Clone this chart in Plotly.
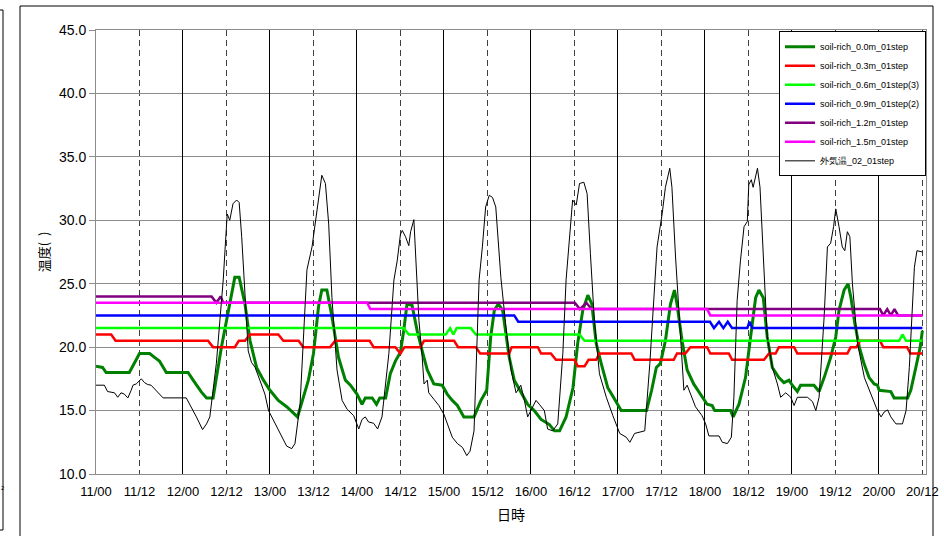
import plotly.graph_objects as go

# ---------------- data (hours since 11/00) ----------------
tick_hours = list(range(0, 229, 12))
tick_labels = ["11/00", "11/12", "12/00", "12/12", "13/00", "13/12", "14/00", "14/12",
               "15/00", "15/12", "16/00", "16/12", "17/00", "17/12", "18/00", "18/12",
               "19/00", "19/12", "20/00", "20/12"]
day_hours = list(range(0, 229, 24))

# soil-rich 0.0m
g00_t = [0, 1.8, 2.8, 9.2, 12.0, 14.8, 16.6, 17.5, 19.4, 25.4, 26.8, 29.1, 30.5, 32.3, 34.6, 36.5,
         38.3, 39.5, 41.1, 42.5, 44.3, 46.2, 48.0, 50.3, 52.6, 55.6, 57.2, 58.6, 60.0, 61.4, 62.3,
         63.7, 65.1, 66.9, 68.8, 70.2, 72.0, 73.4, 74.3, 76.2, 77.4, 78.3, 79.9, 81.2, 82.6, 84.0,
         84.9, 85.8, 87.2, 88.6, 90.0, 91.4, 93.2, 95.5, 96.9, 98.3, 99.7, 101.5, 104.3, 106.2,
         107.8, 108.9, 109.9, 111.0, 112.2, 114.0, 115.4, 117.2, 119.1, 120.9, 122.8, 125.1,
         126.5, 127.9, 129.7, 131.6, 132.9, 134.3, 135.7, 136.8, 138.0, 139.4, 141.2, 143.1,
         144.9, 151.9, 153.3, 154.6, 155.7, 157.1, 158.5, 159.6, 160.3, 161.7, 163.1, 164.9,
         166.8, 168.6, 170.0, 170.7, 175.1, 175.8, 177.4, 179.2, 180.6, 182.0, 182.9, 184.1,
         185.2, 186.6, 188.4, 189.8, 191.2, 192.1, 193.5, 194.4, 198.1, 199.5, 200.9, 202.7,
         204.1, 205.0, 206.4, 207.5, 208.3, 209.4, 210.6, 211.9, 213.3, 214.7, 215.6, 216.1,
         219.3, 220.2, 223.9, 224.8, 226.2, 227.4, 228.0]
g00_v = [18.5, 18.4, 18.0, 18.0, 19.5, 19.5, 19.1, 18.9, 18.0, 18.0, 17.4, 16.45, 16.0, 16.0, 20.0, 22.9,
         25.5, 25.5, 23.4, 20.5, 18.4, 17.4, 16.6, 15.8, 15.3, 14.5, 16.05, 17.4, 19.5, 23.2, 24.5,
         24.5, 22.4, 19.2, 17.4, 17.0, 16.3, 15.5, 16.0, 16.0, 15.5, 16.0, 16.0, 17.9, 18.9, 19.6,
         21.3, 23.4, 23.3, 21.3, 19.7, 18.2, 17.1, 17.0, 16.3, 15.8, 15.4, 14.5, 14.5, 15.8,
         16.6, 20.8, 22.9, 23.4, 22.9, 19.2, 17.4, 16.45, 15.5, 15.0, 14.3, 13.9,
         13.4, 13.4, 14.5, 16.8, 20.3, 22.9, 24.1, 23.4, 20.3, 18.7, 16.8, 15.9,
         15.0, 15.0, 16.6, 18.4, 18.7, 20.5, 23.4, 24.5, 23.4, 20.5, 18.2, 17.1,
         16.3, 15.5, 15.4, 15.0, 15.0, 14.5, 15.5, 17.6, 20.8, 23.9, 24.5, 23.9,
         20.8, 18.4, 17.6, 17.2, 17.4, 17.0, 16.5, 17.0, 17.0, 16.5, 17.6, 19.2,
         20.8, 22.9, 24.5, 25.0, 23.9, 21.8, 20.0, 18.7, 17.6, 17.1, 17.0, 16.6,
         16.5, 16.0, 16.0, 16.6, 18.4, 20.0, 21.3]

# soil-rich 0.3m
g03_t = [0, 4.2, 5.4, 30.9, 32.3, 38.3, 39.4, 41.1, 42.5, 50.3, 51.7, 55.9, 57.2, 64.6, 66.0, 75.5,
         76.6, 82.6, 84.0, 85.1, 89.5, 90.5, 98.8, 99.9, 104.8, 106.0, 114.0, 114.7, 121.9, 122.8,
         125.5, 126.9, 132.0, 132.9, 134.8, 135.9, 138.0, 138.9, 147.7, 148.6, 159.4, 160.3, 162.6,
         164.0, 168.6, 169.5, 174.6, 175.5, 184.3, 185.7, 187.5, 188.4, 192.6, 193.5, 207.3, 208.2,
         209.8, 210.8, 216.3, 217.2, 223.8, 224.7, 228.0]
g03_v = [21.0, 21.0, 20.5, 20.5, 20.0, 20.0, 20.5, 20.5, 21.0, 21.0, 20.5, 20.5, 20.0, 20.0, 20.5, 20.5,
         20.0, 20.0, 19.5, 20.0, 20.0, 20.5, 20.5, 20.0, 20.0, 19.5, 19.5, 20.0, 20.0, 19.5,
         19.5, 19.0, 19.0, 18.5, 18.5, 19.0, 19.0, 19.5, 19.5, 19.0, 19.0, 19.5, 19.5,
         20.0, 20.0, 19.5, 19.5, 19.0, 19.0, 19.5, 19.5, 20.0, 20.0, 19.5, 19.5, 20.0,
         20.0, 20.5, 20.5, 20.0, 20.0, 19.5, 19.5]

# soil-rich 0.6m
g06_t = [0, 84.9, 86.3, 96.5, 97.7, 98.6, 99.5, 103.4, 104.8, 133.4, 134.8, 221.6, 222.5, 223.5, 228.0]
g06_v = [21.5, 21.5, 21.0, 21.0, 21.5, 21.0, 21.5, 21.5, 21.0, 21.0, 20.5, 20.5, 21.0, 20.5, 20.5]

# soil-rich 0.9m
g09_t = [0, 115.4, 116.5, 169.4, 170.5, 171.9, 173.1, 174.3, 175.5, 179.7, 180.3, 181.1, 228.0]
g09_v = [22.5, 22.5, 22.0, 22.0, 21.5, 22.0, 21.5, 22.0, 21.5, 21.5, 22.0, 21.5, 21.5]

# soil-rich 1.2m
g12_t = [0, 31.9, 33.2, 34.4, 35.1, 132.1, 133.5, 135.3, 136.7, 216.3, 217.2, 218.3, 219.3, 220.3, 221.3, 228.0]
g12_v = [24.0, 24.0, 23.5, 24.0, 23.5, 23.5, 23.0, 23.5, 23.0, 23.0, 22.5, 23.0, 22.5, 23.0, 22.5, 22.5]

# soil-rich 1.5m
g15_t = [0, 74.8, 75.7, 168.6, 169.5, 228.0]
g15_v = [23.5, 23.5, 23.0, 23.0, 22.5, 22.5]

# outside air temperature
air_t = [0, 2.3, 3.2, 5.1, 6.0, 6.9, 7.8, 8.8, 9.7, 10.2, 11.1, 12.5, 13.4, 14.3, 15.2, 16.6, 18.5,
         24.9, 25.9, 27.7, 29.4, 30.5, 31.4, 33.2, 35.1, 36.2, 36.9, 37.8, 38.8, 39.5, 40.2, 41.1,
         42.0, 42.9, 43.9, 45.2, 46.6, 47.6, 49.9, 52.6, 54.0, 54.9, 56.3, 58.2, 59.6, 60.9, 62.3,
         63.3, 64.2, 65.1, 66.5, 67.9, 69.3, 71.1, 72.5, 73.4, 74.3, 75.2, 76.6, 77.7, 78.9, 80.8,
         82.2, 83.1, 84.0, 84.5, 85.4, 86.3, 86.8, 87.7, 88.2, 89.1, 90.0, 90.5, 91.4, 91.8, 93.2,
         94.6, 96.0, 97.4, 98.3, 99.7, 101.1, 102.3, 103.2, 104.3, 105.7, 106.6, 107.5, 108.5,
         109.4, 110.3, 111.7, 113.1, 114.5, 115.9, 117.2, 118.2, 119.1, 120.5, 121.4, 122.3,
         123.7, 124.6, 126.0, 127.4, 128.8, 129.7, 130.6, 131.5, 132.5, 133.4, 134.6, 135.5,
         136.4, 137.5, 138.9, 140.8, 142.6, 144.5, 146.3, 147.3, 148.6, 151.4, 152.8, 154.2,
         154.8, 156.2, 157.1, 158.3, 158.9, 159.9, 161.3, 162.2, 163.1, 164.5, 165.4, 167.2,
         168.2, 169.1, 171.9, 172.8, 174.2, 175.3, 176.0, 176.9, 177.8, 178.8, 179.7, 180.1,
         180.8, 181.3, 182.5, 183.2, 184.3, 185.2, 186.6, 188.0, 188.9, 190.3, 191.7, 192.6,
         193.5, 196.3, 197.7, 198.6, 199.5, 200.9, 201.8, 202.7, 203.5, 204.1, 205.0, 205.9,
         206.6, 207.3, 208.0, 208.7, 210.1, 212.0, 213.8, 215.6, 216.6, 217.5, 218.4, 219.3,
         220.7, 222.5, 223.5, 224.4, 225.8, 226.5, 228.0]
air_v = [17.0, 17.0, 16.5, 16.4, 16.05, 16.4, 16.3, 16.0, 16.6, 17.0, 17.1, 17.5, 17.2, 17.05, 17.0, 16.6, 16.0,
         16.0, 15.5, 14.5, 13.5, 13.95, 14.5, 18.7, 25.3, 30.5, 30.0, 31.3, 31.6, 31.4, 28.7, 23.9,
         19.7, 18.8, 18.4, 17.4, 16.3, 15.0, 13.7, 12.2, 12.0, 12.4, 15.5, 26.1, 27.9, 30.5, 33.55,
         32.9, 29.7, 23.9, 18.2, 15.8, 15.1, 14.6, 13.55, 14.3, 14.5, 14.1, 14.0, 13.55, 14.5, 19.5,
         25.3, 26.8, 28.9, 29.2, 28.7, 28.0, 29.1, 30.05, 27.4, 22.1, 19.2, 17.1, 17.4, 16.4, 15.9,
         15.4, 14.7, 13.7, 12.9, 12.4, 12.1, 11.45, 11.8, 13.4, 25.3, 27.9, 31.05, 31.97,
         31.8, 31.05, 25.5, 21.6, 18.2, 16.4, 17.0, 15.8, 14.5, 15.3, 15.8, 15.5,
         15.0, 13.55, 13.4, 13.95, 19.5, 25.3, 28.7, 31.6, 31.2, 32.9, 33.0, 32.1,
         27.4, 22.1, 17.9, 16.05, 14.6, 13.2, 12.9, 12.5, 13.2, 13.4, 18.7, 25.3,
         27.9, 30.5, 32.6, 34.1, 32.6, 27.1, 20.3, 16.6, 17.0, 16.05, 15.3, 14.6,
         13.95, 13.0, 13.0, 12.5, 12.4, 12.9, 16.05, 23.7, 26.8, 29.5, 29.9, 32.8,
         33.2, 32.6, 34.1, 32.6, 26.3, 20.8, 18.4, 17.1, 16.05, 16.4, 16.05, 15.4,
         16.05, 16.05, 15.7, 15.0, 16.05, 22.4, 27.9, 28.2, 29.5, 30.9, 29.5, 27.9,
         27.6, 29.1, 28.7, 25.0, 20.3, 17.6, 16.3, 15.0, 14.5, 14.9, 15.05, 14.5,
         13.95, 13.95, 15.0, 18.4, 26.3, 27.6, 27.5]

series_names = ["soil-rich_0.0m_01step", "soil-rich_0.3m_01step", "soil-rich_0.6m_01step(3)",
                "soil-rich_0.9m_01step(2)", "soil-rich_1.2m_01step", "soil-rich_1.5m_01step",
                "外気温_02_01step"]

# ---------------- figure ----------------
PX_L, PX_R, PX_T, PX_B = 96, 926, 30, 474
W, H = 944, 536

def px(xp):
    return (xp - PX_L) / (PX_R - PX_L)

def py(yp):
    return (PX_B - yp) / (PX_B - PX_T)

fig = go.Figure()
soil = [(g00_t, g00_v, "#008000", 3), (g03_t, g03_v, "#FF0000", 2.5), (g06_t, g06_v, "#00FF00", 2.5),
        (g09_t, g09_v, "#0000FF", 2.5), (g12_t, g12_v, "#800080", 2.5), (g15_t, g15_v, "#FF00FF", 2.5)]
for (t, v, c, w), name in zip(soil, series_names[:6]):
    fig.add_trace(go.Scatter(x=t, y=v, mode="lines", name=name, line=dict(color=c, width=w)))
fig.add_trace(go.Scatter(x=air_t, y=air_v, mode="lines", name=series_names[6],
                         line=dict(color="#000000", width=1), xaxis="x2"))

tickfont = dict(family="Liberation Sans, Arial, sans-serif", size=13, color="black")
fig.update_layout(
    width=W, height=H,
    margin=dict(l=PX_L, r=W - PX_R, t=PX_T, b=H - PX_B, autoexpand=False),
    paper_bgcolor="white", plot_bgcolor="white",
    font=dict(family="Liberation Sans, Arial, sans-serif", color="black"),
    showlegend=True,
    legend=dict(x=1, y=0.997, xanchor="right", yanchor="top", bgcolor="white",
                bordercolor="black", borderwidth=1, itemwidth=30, tracegroupgap=0,
                font=dict(family="Liberation Sans, Arial, sans-serif", size=9, color="black")),
    xaxis=dict(range=[0, 229], tickvals=tick_hours, ticktext=tick_labels,
               ticks="outside", ticklen=5, tickcolor="rgba(0,0,0,0)",
               showgrid=True, gridcolor="#404040", gridwidth=1, griddash="6px,4px",
               showline=True, linecolor="#8c8c8c", linewidth=1, mirror=True, zeroline=False,
               tickfont=tickfont,
               title=dict(text="日時", standoff=12,
                          font=dict(family="Noto Sans CJK JP", size=14, color="black"))),
    xaxis2=dict(range=[0, 229], overlaying="x", tickvals=day_hours, showticklabels=False, ticks="",
                showgrid=True, gridcolor="#000000", gridwidth=1, showline=False, zeroline=False),
    yaxis=dict(range=[10, 45], dtick=5, tick0=10, tickformat=".1f", ticks="outside", ticklen=6,
               tickcolor="#8c8c8c", showgrid=True, gridcolor="#8c8c8c", gridwidth=1,
               showline=True, linecolor="#8c8c8c", linewidth=1, mirror=True, zeroline=False,
               tickfont=dict(family="Liberation Sans, Arial, sans-serif", size=14, color="black"),
               title=dict(text="温度(\u00a0\u00a0)", standoff=6,
                          font=dict(family="Noto Sans CJK JP", size=13, color="black"))),
)

# outer chart frame and the edge of a neighbouring chart
fig.add_shape(type="rect", xref="paper", yref="paper", x0=px(20), x1=px(933), y0=py(545), y1=py(6),
              line=dict(color="black", width=1), layer="below")
fig.add_shape(type="rect", xref="paper", yref="paper", x0=px(-10), x1=px(3), y0=py(530), y1=py(10),
              line=dict(color="black", width=1), layer="below")
fig.add_annotation(text="2", xref="paper", yref="paper", x=px(0), y=py(492), xanchor="left",
                   showarrow=False, borderpad=0, font=dict(size=6, color="black"))

fig.write_html("out.html", config={"displayModeBar": False},
               post_script="document.body.style.margin='0';document.body.style.overflow='hidden';")
